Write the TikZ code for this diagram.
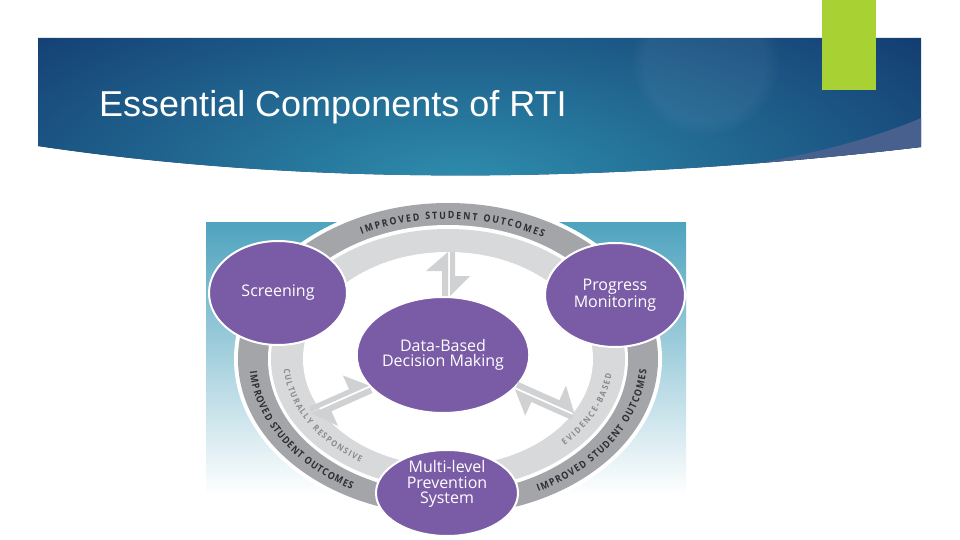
\documentclass[tikz,border=0pt]{standalone}
\usepackage{fontspec}
\setmainfont{Liberation Sans}
\newfontfamily\bubblefont{Open Sans}
\newfontfamily\ringfont[FakeStretch=0.88]{Open Sans}
\usepackage{tikz}
\usetikzlibrary{shapes.geometric,decorations.text,fadings}

\definecolor{bannernavy}{RGB}{12,38,96}
\definecolor{bannerteal}{RGB}{46,142,174}
\definecolor{swoosh}{RGB}{72,96,142}
\definecolor{barlime}{RGB}{168,210,52}
\definecolor{imgteal}{RGB}{78,163,190}
\definecolor{imgmid}{RGB}{125,190,210}
\definecolor{ringdark}{RGB}{163,165,168}
\definecolor{ringlight}{RGB}{216,217,219}
\definecolor{boltgray}{RGB}{208,209,211}
\definecolor{rtipurple}{RGB}{122,92,166}
\definecolor{ringink}{RGB}{45,45,50}
\definecolor{softink}{RGB}{135,137,141}

\tikzset{
  bubble/.style={ellipse, fill=rtipurple, draw=white, line width=2pt, inner sep=0pt,
    text=white, align=center, font=\bubblefont\fontsize{16}{15.5}\selectfont},
  ringtext/.style={decorate, decoration={text along path, text align=fit to path,
    text color=ringink, text={|\ringfont\bfseries\fontsize{10}{10}\selectfont|#1}}},
  softtext/.style={decorate, decoration={text along path, text align=fit to path,
    text color=softink, text={|\ringfont\bfseries\fontsize{8.5}{8.5}\selectfont|#1}}},
  bolt/.pic={
    \fill[boltgray] (0,0) -- (0,#1) -- ({-22},{#1-19}) -- ({-6},{#1-19}) -- (-6,0) -- cycle;
    \fill[boltgray] (2,0) -- (22,20) -- (7,20) -- (7,#1) -- (2,#1) -- cycle;
  }
}

\begin{document}
\begin{tikzpicture}[x=1pt,y=1pt]
  \useasboundingbox (0,0) rectangle (960,-540);
  \fill[white] (0,0) rectangle (960,-540);

  % banner
  \begin{scope}
    \clip (38,-38) -- (921,-38) -- (921,-147) .. controls (600,-185) and (300,-185) .. (38,-146) -- cycle;
    \fill[bannernavy] (38,-38) rectangle (921,-190);
    \shade[inner color=bannerteal, outer color=bannernavy] (460,-185) ellipse (760 and 300);
    \fill[white, opacity=0.05, path fading=circle with fuzzy edge 20 percent] (705,-62) circle (75);
    \fill[swoosh] (690,-172) .. controls (790,-162) and (870,-140) .. (921,-118) -- (921,-200) -- (690,-200) -- cycle;
  \end{scope}
  \fill[barlime] (822,0) rectangle (876,-90);
  \node[anchor=base west, text=white, inner sep=0pt, font=\fontsize{36}{40}\selectfont]
    (title) at (99,-117) {Essential Components of RTI};

  % picture background
  \shade[top color=imgteal, middle color=imgmid, bottom color=white] (206,-222) rectangle (686,-495);

  % ring
  \coordinate (ring) at (448,-359);
  \fill[white] (ring) ellipse (214 and 160);
  \fill[ringdark] (ring) ellipse (210 and 156);
  \fill[white] (ring) ellipse (180 and 134);
  \fill[ringlight] (ring) ellipse (177 and 130);
  \fill[white] (ring) ellipse (145 and 107);

  \path[ringtext={IMPROVED STUDENT OUTCOMES}] ([shift={(117:190 and 140)}]ring)
    arc[start angle=117, end angle=60, x radius=190, y radius=140];
  \path[ringtext={IMPROVED STUDENT OUTCOMES}] ([shift={(185:199 and 149)}]ring)
    arc[start angle=185, end angle=241, x radius=199, y radius=149];
  \path[ringtext={IMPROVED STUDENT OUTCOMES}] ([shift={(297:199 and 149)}]ring)
    arc[start angle=297, end angle=356, x radius=199, y radius=149];
  \path[softtext={CULTURALLY RESPONSIVE}] ([shift={(185:165 and 122)}]ring)
    arc[start angle=185, end angle=238, x radius=165, y radius=122];
  \path[softtext={EVIDENCE-BASED}] ([shift={(315:165 and 122)}]ring)
    arc[start angle=315, end angle=353, x radius=165, y radius=122];

  % components
  \node[bubble, minimum width=138pt, minimum height=104pt] (screen) at (278,-293) {Screening};
  \node[bubble, minimum width=140pt, minimum height=104pt] (progress) at (615,-295) {Progress\\Monitoring};
  \node[bubble, minimum width=142pt, minimum height=116pt] (data) at (443,-355) {Data-Based\\Decision Making};
  \node[bubble, minimum width=142pt, minimum height=86pt] (multi) at (447,-493) {};
  \node[text=white, align=center, font=\bubblefont\fontsize{16}{15.5}\selectfont]
    (multitext) at ([yshift=9pt]multi.center) {Multi-level\\Prevention\\System};

  \pic at ([xshift=5pt]data.north) {bolt=44};
  \pic[rotate=114] at (data.204) {bolt=64};
  \pic[rotate=-114] at (data.-24) {bolt=64};
\end{tikzpicture}
\end{document}
